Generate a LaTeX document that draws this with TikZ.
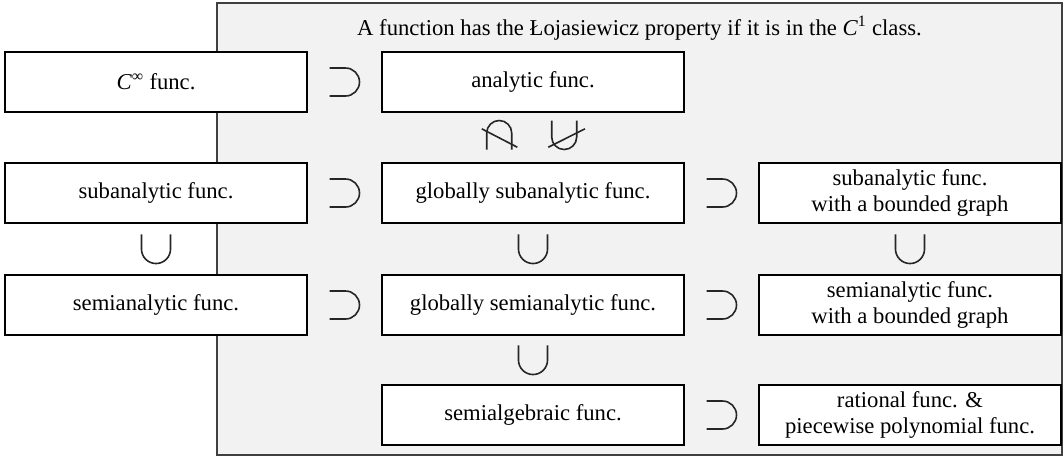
\documentclass[tikz,border=0pt]{standalone}
\usepackage{fontspec}
\setmainfont{Liberation Serif}
\usetikzlibrary{calc}

\tikzset{
  classbox/.style={draw=black, line width=0.9pt, fill=white,
    minimum width=226.5pt, minimum height=45pt, inner sep=0pt,
    align=center, font=\fontsize{17}{19}\selectfont},
  sym/.style={line width=1.2pt, black!85},
  supset/.pic={\draw[sym] (-11.25pt,10.5pt) -- (0.75pt,10.5pt)
    arc[start angle=90, end angle=-90, radius=10.5pt] -- (-11.25pt,-10.5pt);},
  cupset/.pic={\draw[sym] (-10.9pt,10.9pt) -- (-10.9pt,0pt)
    arc[start angle=180, end angle=360, radius=10.9pt] -- (10.9pt,10.9pt);},
  notcap/.pic={\draw[sym] (-9.375pt,-10.875pt) -- (-9.375pt,1.5pt)
    arc[start angle=180, end angle=0, radius=9.375pt] -- (9.375pt,-10.875pt);
    \draw[sym] (-13.1pt,4.65pt) -- (13.6pt,-9.15pt);},
  notcup/.pic={\draw[sym] (-9.375pt,10.875pt) -- (-9.375pt,-1.5pt)
    arc[start angle=180, end angle=360, radius=9.375pt] -- (9.375pt,10.875pt);
    \draw[sym] (-11.9pt,-9.15pt) -- (15.6pt,4.65pt);}
}

\begin{document}
\begin{tikzpicture}[x=0.75pt, y=-0.75pt]
\useasboundingbox (0,0) rectangle (1064,458);
% the C^1 region
\draw[line width=1.3pt, draw=black!75, fill=black!5] (217,3) rectangle (1062,455);
\node[anchor=base, font=\fontsize{17}{19}\selectfont] (title) at (639.5,35)
  {A function has the Łojasiewicz property if it is in the \textit{C}\textsuperscript{1} class.};

% classes
\node[classbox] (cinf) at (156,82) {\textit{C}\textsuperscript{∞} func.};
\node[classbox] (ana) at (533,82) {analytic func.};
\node[classbox] (subana) at (156,193) {subanalytic func.};
\node[classbox] (gsubana) at (533,193) {globally subanalytic func.};
\node[classbox] (bsubana) at (910,193) {subanalytic func.\\with a bounded graph};
\node[classbox] (semiana) at (156,305) {semianalytic func.};
\node[classbox] (gsemiana) at (533,305) {globally semianalytic func.};
\node[classbox] (bsemiana) at (910,305) {semianalytic func.\\with a bounded graph};
\node[classbox] (semialg) at (533,415) {semialgebraic func.};
\node[classbox] (rat) at (910,415) {rational func. \&\\piecewise polynomial func.};

% inclusions
\pic at ($(cinf.east)!0.5!(ana.west)$) {supset};
\pic at ($(subana.east)!0.5!(gsubana.west)$) {supset};
\pic at ($(gsubana.east)!0.5!(bsubana.west)$) {supset};
\pic at ($(semiana.east)!0.5!(gsemiana.west)$) {supset};
\pic at ($(gsemiana.east)!0.5!(bsemiana.west)$) {supset};
\pic at ($(semialg.east)!0.5!(rat.west)$) {supset};
\pic at ($(subana.south)!0.5!(semiana.north)$) {cupset};
\pic at ($(gsubana.south)!0.5!(gsemiana.north)$) {cupset};
\pic at ($(bsubana.south)!0.5!(bsemiana.north)$) {cupset};
\pic at ($(gsemiana.south)!0.5!(semialg.north)$) {cupset};
\pic at ($(ana.south)!0.45!(gsubana.north)+(-33.8,0)$) {notcap};
\pic at ($(ana.south)!0.45!(gsubana.north)+(31.2,0)$) {notcup};
\end{tikzpicture}
\end{document}
